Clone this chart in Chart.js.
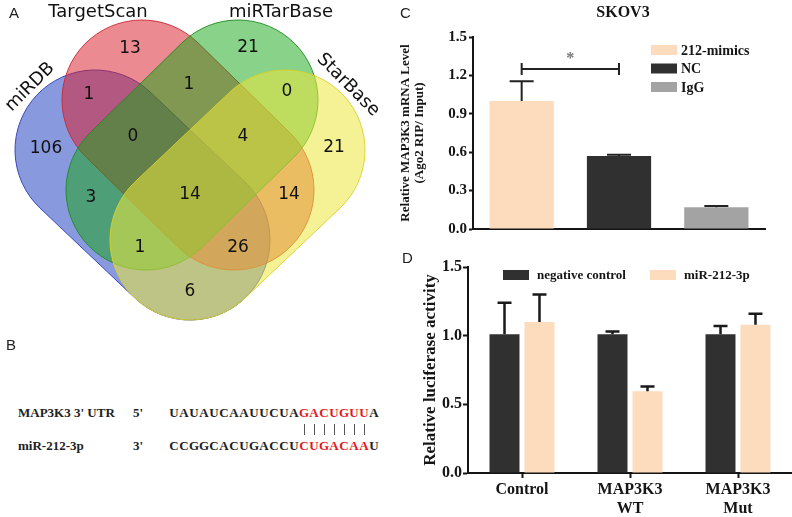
<!DOCTYPE html>
<html><head><meta charset="utf-8">
<script src="https://cdn.jsdelivr.net/npm/chart.js@4"></script>
<style>
html,body{margin:0;padding:0;background:#fff;}
#wrap{position:relative;width:792px;height:517px;overflow:hidden;background:#fff;}
canvas{position:absolute;}
.lbl{position:absolute;font-family:"Liberation Sans",Arial,sans-serif;font-size:15px;color:#222;line-height:1;}
.row{position:absolute;font-family:"Liberation Serif","Times New Roman",serif;font-weight:bold;font-size:13px;color:#222;white-space:nowrap;line-height:16px;height:16px;}
.cell{display:inline-block;width:10px;text-align:center;}
.red{color:#e3171d;}
.bond{position:absolute;width:1px;height:11px;background:#555;}
</style></head><body><div id="wrap">
<canvas id="venn" width="400" height="330" style="left:0;top:0"></canvas>
<canvas id="chartC" width="397" height="250" style="left:395px;top:0"></canvas>
<canvas id="chartD" width="397" height="267" style="left:395px;top:250px"></canvas>
<div class="lbl" style="left:9px;top:5px">A</div>
<div class="lbl" style="left:6px;top:337px">B</div>
<div class="lbl" style="left:400px;top:5px">C</div>
<div class="lbl" style="left:402px;top:250px">D</div>
<div id="panelB"></div>
</div>
<script>
// ---------------- DATA ----------------
// Panel A (Venn)
const vennSets = ['miRDB', 'TargetScan', 'miRTarBase', 'StarBase'];
const vennRegionCounts = [106, 13, 21, 21, 1, 1, 0, 3, 0, 14, 4, 14, 1, 26, 6];
// Panel B (sequences)
const bNames = ["MAP3K3 3' UTR", 'miR-212-3p'];
const bEnds = ["5'", "3'"];
const bSeqs = ['UAUAUCAAUUCUAGACUGUUA', 'CCGGCACUGACCUCUGACAAU'];
const bSeedStart = 13, bSeedEnd = 20;
// Panel C
const cTitle = 'SKOV3';
const cCategories = ['212-mimics', 'NC', 'IgG'];
const cValues = [1.00, 0.57, 0.17];
const cErrors = [0.155, 0.01, 0.01];
const cSigPair = [0, 1];
const cSigLevel = 1.25;
const cSigText = '*';
const cYTitle = ['Relative MAP3K3 mRNA Level', '(Ago2 RIP/ Input)'];
// Panel D
const dCategories = ['Control', ['MAP3K3', 'WT'], ['MAP3K3', 'Mut']];
const dSeriesNames = ['negative control', 'miR-212-3p'];
const dNC = [1.01, 1.01, 1.01];
const dNCErr = [0.23, 0.02, 0.06];
const dMiR = [1.10, 0.595, 1.08];
const dMiRErr = [0.20, 0.035, 0.08];
const dYTitle = 'Relative luciferase activity';

// ---------------- STYLE / LAYOUT ----------------
const PEACH = '#fcdcbd', DARK = '#303030', GRAY = '#a3a3a3', INK = '#151515';
const SERIF = '"Liberation Serif","Times New Roman",serif';
const SANS_V = '"DejaVu Sans",Verdana,sans-serif';

const vennLayout = {
  r: 80,
  caps: [[95,150,190,240],[142,100,234,190],[238,100,146,190],[285,150,190,240]],
  fill: ['rgba(40,70,195,0.55)','rgba(218,30,45,0.52)','rgba(20,165,20,0.5)','rgba(235,232,60,0.55)'],
  stroke: ['rgba(40,60,180,0.9)','rgba(200,40,50,0.9)','rgba(30,140,30,0.9)','rgba(215,210,40,0.9)'],
  setLabelPos: [[30,87,-45],[98,12,0],[281,12,0],[348,85,45]],
  regionPos: [[46,149],[130,49],[248,48],[334,148],[89,95],[189,85],[133,137],[91,198],[287,92],[190,195],[243,137],[289,195],[140,248],[238,248],[190,292]]
};

// ---------------- PANEL B (HTML) ----------------
(function(){
  const root = document.getElementById('panelB');
  const rowsTop = [405, 438];
  const seqLeft = 169, cellW = 10;
  bSeqs.forEach((seq, r) => {
    const n = document.createElement('div'); n.className = 'row';
    n.style.left = '18px'; n.style.top = rowsTop[r] + 'px'; n.textContent = bNames[r]; root.appendChild(n);
    const e = document.createElement('div'); e.className = 'row';
    e.style.left = '133px'; e.style.top = rowsTop[r] + 'px'; e.textContent = bEnds[r]; root.appendChild(e);
    const s = document.createElement('div'); s.className = 'row';
    s.style.left = seqLeft + 'px'; s.style.top = rowsTop[r] + 'px';
    [...seq].forEach((ch, i) => {
      const c = document.createElement('span'); c.className = 'cell' + (i >= bSeedStart && i < bSeedEnd ? ' red' : '');
      c.textContent = ch; s.appendChild(c);
    });
    root.appendChild(s);
  });
  for (let i = bSeedStart; i < bSeedEnd; i++) {
    const b = document.createElement('div'); b.className = 'bond';
    b.style.left = (seqLeft + i * cellW + cellW / 2) + 'px'; b.style.top = '424px';
    root.appendChild(b);
  }
})();

// ---------------- PANEL A (Venn via Chart.js scales) ----------------
const vennPlugin = {
  id: 'vennShapes',
  beforeDatasetsDraw(chart) {
    const ctx = chart.ctx, xs = chart.scales.x, ys = chart.scales.y;
    const rp = Math.abs(xs.getPixelForValue(vennLayout.r) - xs.getPixelForValue(0));
    vennSets.forEach((name, k) => {
      const c = vennLayout.caps[k];
      const x1 = xs.getPixelForValue(c[0]), y1 = ys.getPixelForValue(c[1]);
      const x2 = xs.getPixelForValue(c[2]), y2 = ys.getPixelForValue(c[3]);
      const th = Math.atan2(y2 - y1, x2 - x1);
      ctx.save();
      ctx.beginPath();
      ctx.arc(x1, y1, rp, th + Math.PI / 2, th + 3 * Math.PI / 2);
      ctx.arc(x2, y2, rp, th - Math.PI / 2, th + Math.PI / 2);
      ctx.closePath();
      ctx.fillStyle = vennLayout.fill[k];
      ctx.fill();
      ctx.lineWidth = 1;
      ctx.strokeStyle = vennLayout.stroke[k];
      ctx.stroke();
      ctx.restore();
    });
  },
  afterDatasetsDraw(chart) {
    const ctx = chart.ctx, xs = chart.scales.x, ys = chart.scales.y;
    const meta = chart.getDatasetMeta(0);
    ctx.save();
    ctx.fillStyle = '#111';
    ctx.textAlign = 'center'; ctx.textBaseline = 'middle';
    ctx.font = '17px ' + SANS_V;
    meta.data.forEach((pt, i) => { ctx.fillText(String(vennRegionCounts[i]), pt.x, pt.y); });
    ctx.font = '18px ' + SANS_V;
    vennSets.forEach((name, k) => {
      const p = vennLayout.setLabelPos[k];
      ctx.save();
      ctx.translate(xs.getPixelForValue(p[0]), ys.getPixelForValue(p[1]));
      ctx.rotate(p[2] * Math.PI / 180);
      ctx.fillText(name, 0, 0);
      ctx.restore();
    });
    ctx.restore();
  }
};
new Chart(document.getElementById('venn'), {
  type: 'scatter',
  data: { datasets: [{ data: vennLayout.regionPos.map(p => ({ x: p[0], y: p[1] })), pointRadius: 0, pointHoverRadius: 0 }] },
  options: {
    responsive: false, animation: false, events: [],
    layout: { padding: 0 },
    plugins: { legend: { display: false }, tooltip: { enabled: false } },
    scales: {
      x: { type: 'linear', min: 0, max: 400, display: false },
      y: { type: 'linear', min: 0, max: 330, reverse: true, display: false }
    }
  },
  plugins: [vennPlugin]
});

// ---------------- shared plugins ----------------
const errBarPlugin = {
  id: 'errbars',
  afterDatasetsDraw(chart, args, opts) {
    const ctx = chart.ctx, y = chart.scales.y;
    chart.data.datasets.forEach((ds, di) => {
      if (!ds.errors) return;
      const meta = chart.getDatasetMeta(di);
      meta.data.forEach((bar, i) => {
        const base = y.getPixelForValue(ds.data[i]);
        const top = y.getPixelForValue(ds.data[i] + ds.errors[i]);
        ctx.save();
        ctx.strokeStyle = opts.color; ctx.lineWidth = opts.width; ctx.lineCap = 'butt';
        ctx.beginPath();
        ctx.moveTo(bar.x, base); ctx.lineTo(bar.x, top);
        ctx.moveTo(bar.x - opts.cap / 2, top); ctx.lineTo(bar.x + opts.cap / 2, top);
        ctx.stroke();
        ctx.restore();
      });
    });
  }
};
const boxLegendPlugin = {
  id: 'boxLegend',
  afterDraw(chart, args, opts) {
    const ctx = chart.ctx;
    ctx.save();
    ctx.font = opts.font; ctx.fillStyle = INK; ctx.textBaseline = 'middle'; ctx.textAlign = 'left';
    opts.items.forEach((it, i) => {
      const x = opts.x + i * opts.dx, y = opts.y + i * opts.dy;
      ctx.fillStyle = it.color;
      ctx.fillRect(x, y - opts.h / 2, opts.w, opts.h);
      ctx.fillStyle = INK;
      ctx.fillText(it.text, x + opts.w + opts.gap, y + 1);
    });
    ctx.restore();
  }
};

// ---------------- PANEL C ----------------
const cColors = [PEACH, DARK, GRAY];
const sigPlugin = {
  id: 'sig',
  afterDatasetsDraw(chart) {
    const ctx = chart.ctx, y = chart.scales.y, meta = chart.getDatasetMeta(0);
    const xa = meta.data[cSigPair[0]].x, xb = meta.data[cSigPair[1]].x, yy = y.getPixelForValue(cSigLevel);
    ctx.save();
    ctx.strokeStyle = '#222'; ctx.lineWidth = 2;
    ctx.beginPath();
    ctx.moveTo(xa, yy); ctx.lineTo(xb, yy);
    ctx.moveTo(xa, yy - 6); ctx.lineTo(xa, yy + 6);
    ctx.moveTo(xb, yy - 6); ctx.lineTo(xb, yy + 6);
    ctx.stroke();
    ctx.fillStyle = '#777'; ctx.font = 'bold 16px ' + SERIF; ctx.textAlign = 'center'; ctx.textBaseline = 'middle';
    ctx.fillText(cSigText, (xa + xb) / 2, yy - 10);
    ctx.fillStyle = INK; ctx.font = 'bold 16px ' + SERIF;
    ctx.fillText(cTitle, (chart.chartArea.left + chart.chartArea.right) / 2 + 4, 13);
    ctx.restore();
  }
};
new Chart(document.getElementById('chartC'), {
  type: 'bar',
  data: {
    labels: cCategories,
    datasets: [{ data: cValues, errors: cErrors, backgroundColor: cColors, borderWidth: 0, categoryPercentage: 1, barPercentage: 0.66 }]
  },
  options: {
    responsive: false, animation: false, events: [],
    layout: { padding: { top: 37, right: 27, left: 0, bottom: 0 } },
    plugins: {
      legend: { display: false }, tooltip: { enabled: false },
      errbars: { color: '#222', width: 2, cap: 24 },
      boxLegend: { font: 'bold 14px ' + SERIF, x: 256, y: 50, dx: 0, dy: 18.5, w: 26, h: 10, gap: 4,
        items: cCategories.map((t, i) => ({ text: t, color: cColors[i] })) }
    },
    scales: {
      x: {
        type: 'category',
        ticks: { display: false },
        grid: { display: false },
        border: { display: true, color: INK, width: 2 },
        afterFit(s) { s.height = 21; }
      },
      y: {
        min: 0, max: 1.5,
        ticks: { stepSize: 0.3, padding: 2, color: INK, font: { family: SERIF, size: 15, weight: 'bold' }, callback: v => Number(v).toFixed(1) },
        grid: { display: true, drawOnChartArea: false, drawTicks: true, tickLength: 4, tickColor: INK, tickWidth: 2 },
        border: { display: true, color: INK, width: 2 },
        title: { display: true, text: cYTitle, color: INK, font: { family: SERIF, size: 13, weight: 'bold', lineHeight: 1.1 }, padding: { top: 3, bottom: 0 } },
        afterFit(s) { s.width = 78; }
      }
    }
  },
  plugins: [errBarPlugin, sigPlugin, boxLegendPlugin]
});

// ---------------- PANEL D ----------------
const dColors = [DARK, PEACH];
new Chart(document.getElementById('chartD'), {
  type: 'bar',
  data: {
    labels: dCategories,
    datasets: [
      { label: dSeriesNames[0], data: dNC, errors: dNCErr, backgroundColor: dColors[0], borderWidth: 0, categoryPercentage: 0.648, barPercentage: 0.857 },
      { label: dSeriesNames[1], data: dMiR, errors: dMiRErr, backgroundColor: dColors[1], borderWidth: 0, categoryPercentage: 0.648, barPercentage: 0.857 }
    ]
  },
  options: {
    responsive: false, animation: false, events: [],
    layout: { padding: { top: 17, right: 0, left: 0, bottom: 0 } },
    plugins: {
      legend: { display: false }, tooltip: { enabled: false },
      errbars: { color: '#1a1a1a', width: 2.5, cap: 14 },
      boxLegend: { font: 'bold 13px ' + SERIF, x: 108, y: 25, dx: 147, dy: 0, w: 26, h: 10, gap: 8,
        items: dSeriesNames.map((t, i) => ({ text: t, color: dColors[i] })) }
    },
    scales: {
      x: {
        type: 'category',
        ticks: { padding: 2, color: INK, font: { family: SERIF, size: 16, weight: 'bold', lineHeight: 1.2 } },
        grid: { display: true, offset: false, drawOnChartArea: false, drawTicks: true, tickLength: 5, tickColor: INK, tickWidth: 2 },
        border: { display: true, color: INK, width: 2 },
        afterFit(s) { s.height = 44; }
      },
      y: {
        min: 0, max: 1.5,
        ticks: { stepSize: 0.5, padding: 1, color: INK, font: { family: SERIF, size: 16, weight: 'bold' }, callback: v => Number(v).toFixed(1) },
        grid: { display: true, drawOnChartArea: false, drawTicks: true, tickLength: 5, tickColor: INK, tickWidth: 2 },
        border: { display: true, color: INK, width: 2 },
        title: { display: true, text: dYTitle, color: INK, font: { family: SERIF, size: 17, weight: 'bold', lineHeight: 1.2 }, padding: { top: 25, bottom: 0 } },
        afterFit(s) { s.width = 73; }
      }
    }
  },
  plugins: [errBarPlugin, boxLegendPlugin]
});
</script>
</body></html>
